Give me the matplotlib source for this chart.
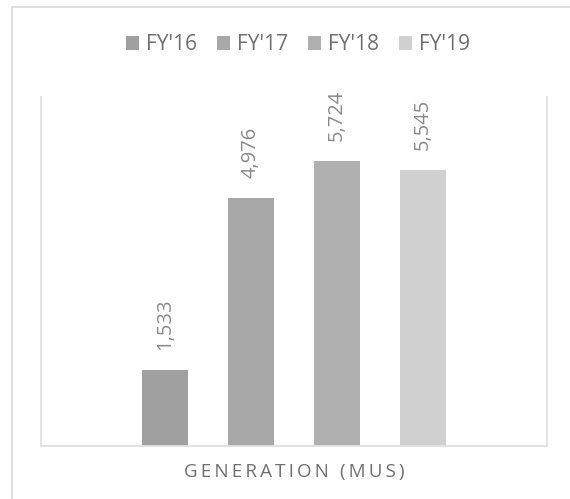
import matplotlib.pyplot as plt
from matplotlib.patches import Rectangle, Patch

# Generation by fiscal year (MUs)
years = ["FY'16", "FY'17", "FY'18", "FY'19"]
generation = [1533, 4976, 5724, 5545]
bar_colors = ['#a0a0a0', '#a8a8a8', '#b0b0b0', '#d0d0d0']
x_title = 'GENERATION (MUS)'

FONT = ['Open Sans', 'DejaVu Sans']
plt.rcParams['font.family'] = FONT

W, H = 570, 499
fig = plt.figure(figsize=(W / 100, H / 100), dpi=100)

# outer chart border (only top and left edges show inside the canvas)
fig.patches.append(Rectangle((12 / W, -0.1), 1.2, 1 - 7 / H + 0.1, transform=fig.transFigure,
                             fill=False, edgecolor='#d9d9d9', linewidth=1.2))

ax = fig.add_axes([41 / W, 53 / H, 506 / W, 349 / H])

# bars sit side by side, one slot per year
pos = [i - (len(years) - 1) / 2 for i in range(len(years))]
bars = ax.bar(pos, generation, width=0.535, color=bar_colors)

for b, v in zip(bars, generation):
    ax.annotate(f'{v:,}', (b.get_x() + b.get_width() / 2, v),
                xytext=(0, 14), textcoords='offset points',
                rotation=90, ha='center', va='bottom',
                fontsize=14.5, color='#8a8a8a')

ax.set_xlim(-2.942, 2.942)
ax.set_ylim(0, 7000)
ax.set_xticks([])
ax.set_yticks([])
ax.spines['top'].set_visible(False)
for s in ['left', 'bottom', 'right']:
    ax.spines[s].set_color('#e0e0e0')
    ax.spines[s].set_linewidth(1.3)

ax.set_xlabel('\u2009'.join(x_title), fontsize=13.5, color='#6f6f6f', labelpad=12,
              family=FONT)

handles = [Patch(facecolor=c, edgecolor='none') for c in bar_colors]
fig.legend(handles, years, loc='center', bbox_to_anchor=(298 / W, 1 - 45 / H),
           ncol=4, frameon=False, fontsize=15, labelcolor='#6f6f6f',
           handlelength=0.63, handleheight=0.63, handletextpad=0.34,
           columnspacing=0.96, borderpad=0)

fig.savefig('out.png', dpi=100)
